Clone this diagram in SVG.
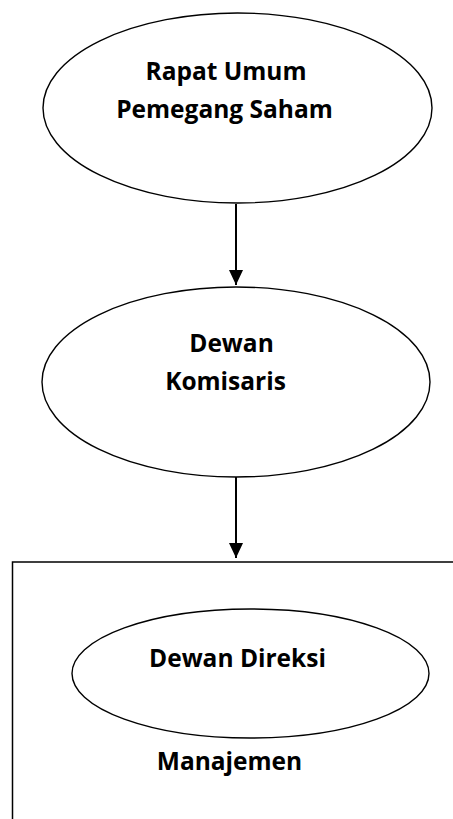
<svg xmlns="http://www.w3.org/2000/svg" width="453" height="819" viewBox="0 0 453 819">
<style>
.node{fill:#fff;stroke:#000;stroke-width:1.4}
.lbl{font-family:"Open Sans","Liberation Sans",sans-serif;font-weight:bold;font-size:24.5px;fill:#000;text-anchor:middle}
.conn{stroke:#000;stroke-width:2;fill:none}
</style>
<defs>
<marker id="arr" markerUnits="userSpaceOnUse" markerWidth="15" markerHeight="16" refX="15" refY="7" orient="auto">
<path d="M0,0 L15,7 L0,14 Z" fill="#000"/>
</marker>
</defs>
<g id="manajemen">
<rect x="12.5" y="562" width="500" height="300" fill="#fff" stroke="#000" stroke-width="1.5"/>
<text class="lbl" x="229.5" y="770">Manajemen</text>
</g>
<g id="rups">
<ellipse class="node" cx="237.5" cy="108" rx="194.5" ry="95"/>
<text class="lbl" x="226" y="80">Rapat Umum</text>
<text class="lbl" x="224.5" y="117.5">Pemegang Saham</text>
</g>
<g id="komisaris">
<ellipse class="node" cx="236" cy="382" rx="194" ry="95"/>
<text class="lbl" x="231.5" y="352">Dewan</text>
<text class="lbl" x="225.5" y="390">Komisaris</text>
</g>
<g id="direksi">
<ellipse class="node" cx="250.5" cy="673.5" rx="178.5" ry="64.5"/>
<text class="lbl" x="237.5" y="667">Dewan Direksi</text>
</g>
<g id="connectors">
<line class="conn" x1="236" y1="204" x2="236" y2="285" marker-end="url(#arr)"/>
<line class="conn" x1="236" y1="477" x2="236" y2="558" marker-end="url(#arr)"/>
</g>
</svg>
